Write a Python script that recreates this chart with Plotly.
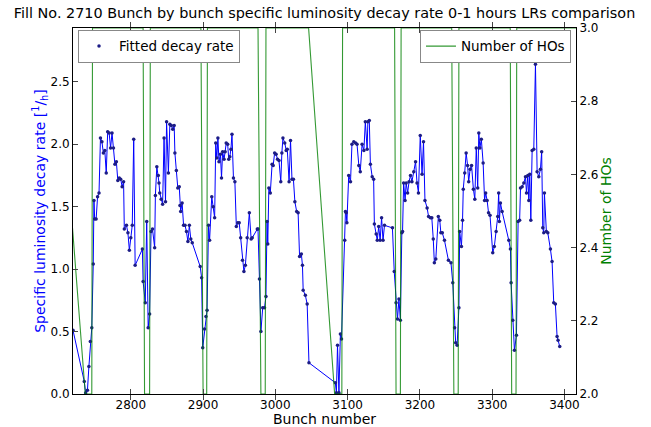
import plotly.graph_objects as go

# Bunch-by-bunch fitted specific luminosity decay rate
bunch = [
    2720, 2735.6, 2737.5, 2740, 2742, 2744, 2746, 2748, 2749, 2750, 2752, 2754, 2756, 2758,
    2760, 2762, 2764, 2766, 2768, 2770, 2772, 2774, 2776, 2778, 2780, 2782, 2784, 2786, 2788,
    2790, 2791, 2794, 2796, 2798, 2800, 2802, 2804, 2806, 2816, 2817, 2820, 2822, 2824, 2826,
    2828, 2830, 2833,
    2834, 2836, 2838, 2839, 2840, 2842, 2844, 2846, 2848, 2849.5, 2852, 2854, 2856, 2858,
    2860, 2861, 2863, 2865, 2867, 2868, 2869, 2871, 2873, 2875, 2877, 2879, 2881, 2883, 2885,
    2896, 2898, 2899.5, 2902, 2904, 2905.5, 2907.5, 2909,
    2912, 2914, 2916, 2917.5, 2919, 2920.5, 2922, 2924, 2925.5, 2927, 2929, 2930.5, 2932,
    2934, 2935.5, 2937, 2938.5, 2940, 2942, 2944, 2946, 2948, 2950, 2952, 2954.5, 2956.5,
    2958.5, 2961, 2964, 2966.5, 2968, 2975, 2976, 2978, 2980, 2982.5, 2985, 2987, 2988.5, 2989.5,
    2991, 2993, 2995.5, 2997, 2999, 3001, 3003, 3005, 3007.5, 3009, 3010.5, 3013, 3015, 3016.5,
    3019, 3021, 3023, 3025, 3027, 3029.5, 3031.5, 3033.5, 3036, 3037.5, 3038.5, 3041.5, 3044,
    3046.5, 3083, 3084.5, 3086, 3088, 3090, 3091.5, 3096,
    3097, 3098, 3099, 3101.5, 3104, 3106, 3108.5, 3111, 3113, 3115.5, 3117.5, 3120, 3122.5,
    3124.5, 3127, 3128, 3130, 3131.5, 3134, 3136, 3137, 3139.5, 3141, 3143, 3145, 3147, 3149,
    3151, 3162, 3164.5, 3167, 3169, 3171, 3173, 3175, 3176,
    3177.5, 3179.5, 3181, 3183, 3185, 3187, 3189, 3191.5, 3194, 3196, 3198, 3200.5, 3203, 3205,
    3207, 3210, 3212, 3214.5, 3216.5, 3218.5, 3220, 3222, 3225.5, 3227.5, 3229, 3231, 3234,
    3239.5, 3243, 3245.5, 3248, 3249.5, 3251.5, 3254, 3255, 3257.5, 3259, 3260,
    3262, 3264, 3266, 3267.5, 3269.5, 3271.5, 3274, 3276, 3278, 3280, 3281.5, 3283, 3285,
    3287.5, 3289.5, 3291, 3293, 3295, 3297, 3300.8, 3303, 3305.5, 3307.7, 3309, 3310, 3311.4,
    3313.8, 3323, 3325.3, 3326.2, 3328.5, 3330.8, 3333.6, 3335.9,
    3338, 3339.2, 3341.5, 3343.8, 3346.1, 3347.5, 3349.3, 3350.7, 3352, 3353.5, 3355.3, 3357.6,
    3359.9, 3362.2, 3364.5, 3366.8, 3368.5, 3370, 3371.4, 3372.3, 3375, 3377, 3380.6, 3382.9,
    3385.2, 3387.5, 3389.8, 3391.2, 3393.5,
]
rate = [
    0.51, 0.10, 0.01, 0.03, 0.22, 0.42, 0.53, 1.04, 1.55, 1.40, 1.40, 1.58, 1.61, 2.05,
    2.02, 1.93, 1.95, 1.77, 2.10, 2.09, 1.97, 2.09, 1.97, 1.84, 1.86, 1.71, 1.73, 1.72, 1.66,
    1.70, 1.32, 1.35, 1.29, 1.15, 1.25, 1.35, 2.04, 1.03, 1.16, 0.90, 0.73, 1.38, 0.53, 0.64,
    1.30, 1.32, 1.17,
    1.59, 1.82, 1.75, 1.69, 1.61, 1.56, 1.52, 2.05, 1.54, 2.18, 1.77, 2.16, 2.15, 2.12,
    2.15, 1.93, 1.79, 1.65, 1.66, 1.51, 1.46, 1.53, 1.35, 1.35, 1.30, 1.22, 1.35, 1.24, 1.21,
    1.02, 0.93, 0.37, 0.52, 0.62, 0.67, 1.35, 1.23,
    1.58, 1.50, 1.41, 2.01, 1.89, 2.05, 1.86, 1.92, 1.73, 1.94, 1.88, 1.94, 2.01,
    2.00, 1.88, 1.90, 1.96, 2.08, 1.73, 1.70, 1.34, 1.37, 1.37, 1.25, 1.07, 0.98,
    1.03, 1.25, 1.45, 1.24, 1.25, 1.32, 1.32, 0.92, 0.50, 0.69, 0.69, 0.78, 1.38, 1.20,
    1.65, 1.61, 1.84, 1.83, 1.93, 1.92, 1.88, 1.87, 1.70, 1.93, 2.05, 2.01, 1.95, 1.96,
    1.70, 2.03, 1.72, 1.72, 1.54, 1.46, 1.45, 1.10, 1.12, 1.03, 0.83, 0.79, 0.72,
    0.25, 0.09, 0.01, 0.39, 0.01, 0.48, 0.44, 1.23,
    1.46, 1.45, 1.37, 1.75, 1.70, 2.00, 2.02, 2.01, 2.00, 1.83, 1.78, 2.00, 1.95,
    2.18, 1.96, 2.18, 2.19, 1.84, 1.74, 1.72, 1.36, 1.28, 1.23, 1.34, 1.23, 1.41, 1.23,
    1.35, 1.33, 0.98, 0.73, 0.60, 0.76, 0.59, 1.29, 1.30,
    1.69, 1.55, 1.69, 1.61, 1.70, 1.75, 1.70, 1.78, 1.86, 1.69, 1.61, 2.07, 1.76, 2.02,
    1.55, 1.49, 1.42, 1.41, 1.41, 1.24, 1.05, 1.08, 1.42, 1.39, 1.29, 1.29, 1.23,
    1.07, 1.05, 0.89, 0.53, 0.41, 0.39, 0.69, 1.30, 1.18, 1.39, 1.64,
    1.77, 1.93, 1.83, 1.70, 1.80, 1.83, 1.64, 1.56, 1.97, 1.65, 2.09, 1.97, 2.04,
    1.85, 1.55, 1.61, 1.55, 1.45, 1.43, 1.13, 1.18, 1.30, 1.42, 1.61, 1.38, 1.53,
    1.46, 1.23, 1.16, 0.89, 0.59, 0.35, 0.47, 1.38,
    1.39, 1.65, 1.66, 1.69, 1.74, 1.61, 1.75, 1.55, 1.76, 1.39, 1.95, 1.96,
    2.64, 1.78, 1.74, 1.80, 1.94, 1.33, 1.29, 1.61, 1.30, 1.29, 1.16, 1.06,
    0.73, 0.72, 0.46, 0.43, 0.38,
]

# Number of head-on collisions per bunch (step transitions)
ho_bunch = [2698, 2737, 2746, 2747, 2817, 2819, 2826, 2827, 2897, 2900, 2905, 2906,
            2976, 2980, 2986, 2987, 3046, 3082, 3092, 3093, 3165, 3167, 3173, 3174,
            3244, 3247, 3253, 3254, 3325, 3327, 3333, 3334, 3416]
ho_count = [3, 2, 2, 3, 3, 2, 2, 3, 3, 2, 2, 3,
            3, 2, 2, 3, 3, 2, 2, 3, 3, 2, 2, 3,
            3, 2, 2, 3, 3, 2, 2, 3, 3]

x_ticks = [2800, 2900, 3000, 3100, 3200, 3300, 3400]
y_ticks = [0.0, 0.5, 1.0, 1.5, 2.0, 2.5]
y2_ticks = [2.0, 2.2, 2.4, 2.6, 2.8, 3.0]

FONT = "DejaVu Sans"

fig = go.Figure()
fig.add_trace(go.Scatter(x=bunch, y=rate, mode="lines",
                         line=dict(color="#0000ff", width=1),
                         showlegend=False, hoverinfo="skip"))
fig.add_trace(go.Scatter(x=bunch, y=rate, mode="markers", name="Fitted decay rate",
                         marker=dict(color="#1c1c86", size=3.5), legend="legend"))
fig.add_trace(go.Scatter(x=ho_bunch, y=ho_count, mode="lines", name="Number of HOs",
                         line=dict(color="rgba(0,128,0,0.8)", width=1.1),
                         yaxis="y2", legend="legend2"))

fig.update_layout(
    width=651, height=427, autosize=False,
    margin=dict(l=73, r=75, t=28, b=33),
    paper_bgcolor="white", plot_bgcolor="white",
    font=dict(family=FONT, size=12, color="black"),
    title=dict(text="Fill No. 2710 Bunch by bunch specific luminosity decay rate 0-1 hours LRs comparison",
               x=0.4985, xanchor="center", y=0.981, yanchor="top",
               font=dict(family=FONT, size=14.4, color="black")),
    xaxis=dict(range=[2720, 3416], tickvals=x_ticks, ticks="inside", ticklen=5,
               showline=True, linecolor="black", linewidth=1, mirror="allticks",
               showgrid=False, zeroline=False,
               title=dict(text="Bunch number", font=dict(size=14), standoff=2),
               tickfont=dict(size=12), automargin=False),
    yaxis=dict(range=[0, 2.93], tickvals=y_ticks, tickformat=".1f", ticks="inside", ticklen=5,
               showline=True, linecolor="black", linewidth=1,
               showgrid=False, zeroline=False,
               title=dict(text="Specific luminosity decay rate [<sup>1</sup>/<sub>h</sub>]",
                          font=dict(size=14, color="#0000ff"), standoff=1),
               tickfont=dict(size=12), automargin=False),
    yaxis2=dict(range=[2.0, 3.0], tickvals=y2_ticks, tickformat=".1f", ticks="inside", ticklen=5,
                overlaying="y", side="right",
                showline=True, linecolor="black", linewidth=1,
                showgrid=False, zeroline=False,
                title=dict(text="Number of HOs", font=dict(size=14, color="#008000"), standoff=3),
                tickfont=dict(size=12), automargin=False),
    legend=dict(x=0.01, y=0.995, xanchor="left", yanchor="top",
                bgcolor="white", bordercolor="#888888", borderwidth=1,
                font=dict(size=13.5), tracegroupgap=0),
    legend2=dict(x=0.99, y=0.995, xanchor="right", yanchor="top",
                 bgcolor="white", bordercolor="#888888", borderwidth=1,
                 font=dict(size=13.5), tracegroupgap=0),
)

fig.write_html("out.html", config={"displayModeBar": False},
               post_script="document.body.style.margin='0';document.body.style.padding='0';")
